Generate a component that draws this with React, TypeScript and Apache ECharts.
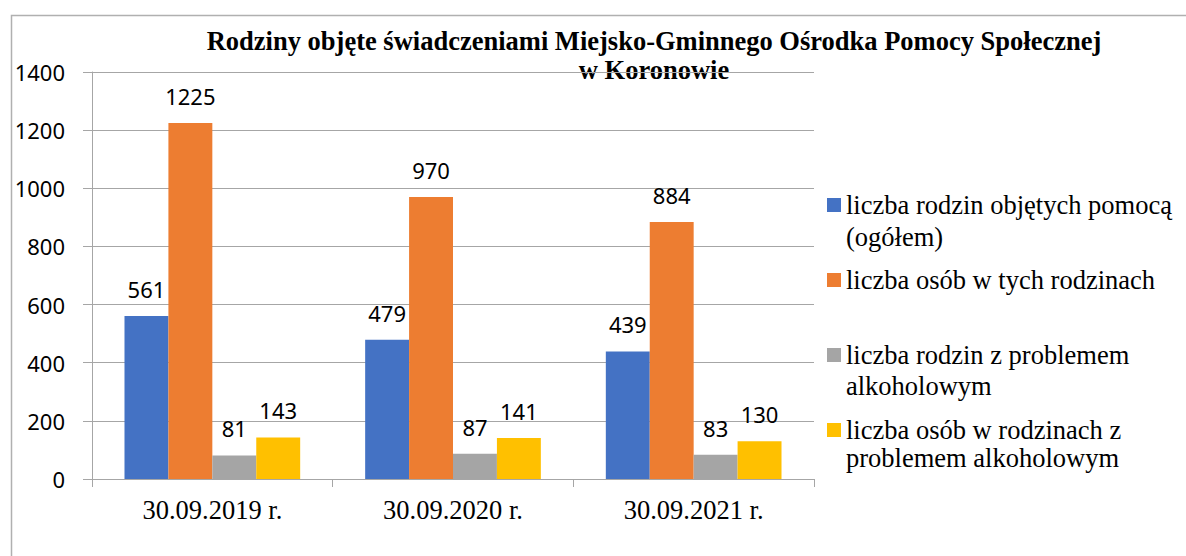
import React, { useEffect, useRef } from "react";
import * as echarts from "echarts";

const categories = ["30.09.2019 r.", "30.09.2020 r.", "30.09.2021 r."];
const seriesNames = [
  "liczba rodzin objętych pomocą (ogółem)",
  "liczba osób w tych rodzinach",
  "liczba rodzin z problemem alkoholowym",
  "liczba osób w rodzinach z problemem alkoholowym",
];
const legendFirstLines = [
  "liczba rodzin objętych pomocą",
  "liczba osób w tych rodzinach",
  "liczba rodzin z problemem",
  "liczba osób w rodzinach z",
];
const legendSecondLines = ["(ogółem)", "", "alkoholowym", "problemem alkoholowym"];
const rodziny = [561, 479, 439];
const osoby = [1225, 970, 884];
const rodzinyAlk = [81, 87, 83];
const osobyAlk = [143, 141, 130];
const colors = ["#4472C4", "#ED7D31", "#A5A5A5", "#FFC000"];
const titleText =
  "Rodziny objęte świadczeniami Miejsko-Gminnego Ośrodka Pomocy Społecznej\nw Koronowie";

const SERIF = "'Liberation Serif', 'Times New Roman', serif";
const SANS = "'Noto Sans', 'Liberation Sans', sans-serif";
const GRID = "#a6a6a6";
const SERIF_SIZE = 26.5;

export default function App() {
  const ref = useRef<HTMLDivElement>(null);
  useEffect(() => {
    if (!ref.current) return;
    const chart = echarts.init(ref.current, null, { renderer: "svg" });
    const data = [rodziny, osoby, rodzinyAlk, osobyAlk];
    const legendTops = [191, 266, 341, 416];
    const secondLineY = [237, 0, 386, 458];
    chart.setOption({
      animation: false,
      backgroundColor: "#ffffff",
      title: {
        text: titleText,
        left: 654,
        top: 26,
        padding: 0,
        z: -1,
        textAlign: "center",
        textStyle: {
          fontFamily: SERIF,
          fontWeight: "bold",
          fontSize: SERIF_SIZE,
          lineHeight: 29,
          color: "#000",
        },
      },
      legend: seriesNames.map((n, i) => ({
        data: [n],
        left: 827,
        top: legendTops[i],
        padding: 0,
        itemWidth: 14,
        itemHeight: 14,
        icon: "rect",
        selectedMode: false,
        formatter: () => legendFirstLines[i],
        textStyle: {
          fontFamily: SERIF,
          fontSize: SERIF_SIZE,
          lineHeight: 28,
          color: "#000",
        },
      })),
      graphic: [
        {
          type: "rect",
          left: 9,
          top: 13,
          shape: { x: 0, y: 0, width: 1300, height: 700 },
          style: { fill: "none", stroke: "#b0b0b0", lineWidth: 1.5 },
          silent: true,
          z: -10,
        },
        ...legendSecondLines
          .map((t, i) => ({ t, i }))
          .filter((o) => o.t)
          .map((o) => ({
            type: "text",
            x: 846,
            y: secondLineY[o.i],
            style: {
              text: o.t,
              fontFamily: SERIF,
              fontSize: SERIF_SIZE,
              fill: "#000",
              verticalAlign: "middle",
            },
          })),
      ],
      grid: { left: 92, right: 372, top: 72, bottom: 77, containLabel: false },
      xAxis: {
        type: "category",
        data: categories,
        axisLine: { show: true, lineStyle: { color: GRID, width: 1 } },
        axisTick: { show: true, length: 8, lineStyle: { color: GRID } },
        axisLabel: {
          fontFamily: SERIF,
          fontSize: SERIF_SIZE,
          color: "#000",
          margin: 17,
        },
      },
      yAxis: {
        type: "value",
        min: 0,
        max: 1400,
        interval: 200,
        axisLine: { show: true, lineStyle: { color: GRID, width: 1 } },
        axisTick: { show: true, length: 9, lineStyle: { color: GRID } },
        splitLine: { show: true, lineStyle: { color: GRID, width: 1 } },
        axisLabel: {
          fontFamily: SANS,
          fontSize: 22,
          color: "#000",
          margin: 27,
          formatter: (v: number) => String(v),
        },
      },
      series: seriesNames.map((n, i) => ({
        name: n,
        type: "bar",
        data: data[i],
        barGap: "0%",
        barCategoryGap: "27%",
        itemStyle: { color: colors[i] },
        label: {
          show: true,
          position: "top",
          distance: 16,
          fontFamily: SANS,
          fontSize: 22,
          color: "#000",
        },
      })),
    });
    return () => chart.dispose();
  }, []);
  return (
    <div
      ref={ref}
      style={{ position: "fixed", left: 0, top: 0, width: 1186, height: 556 }}
    />
  );
}
